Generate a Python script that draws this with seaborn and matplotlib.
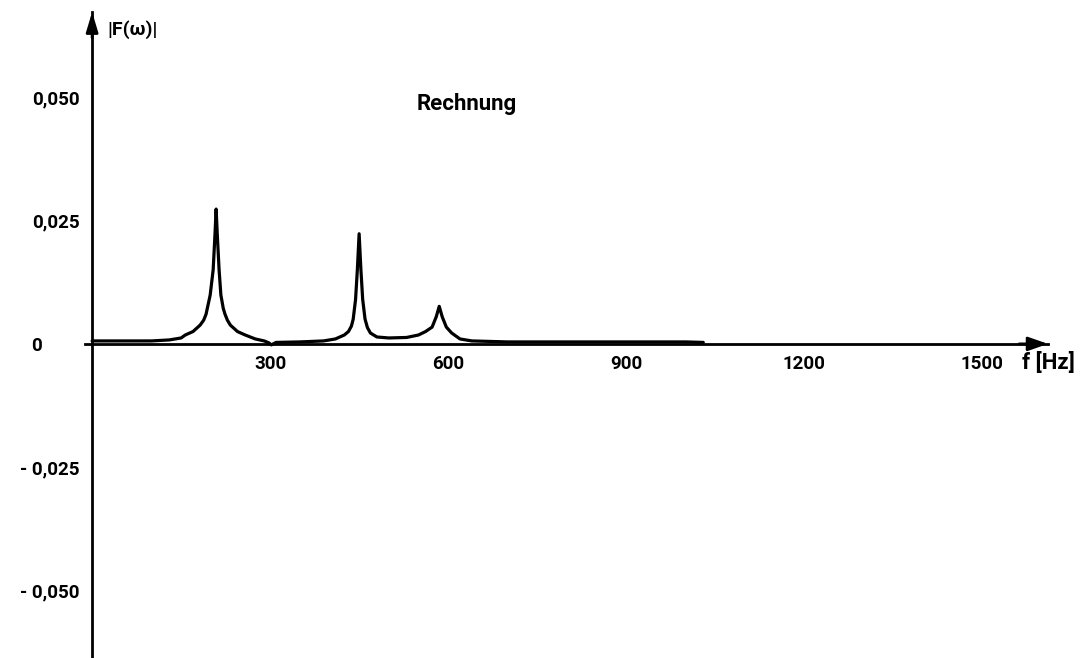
import matplotlib
matplotlib.use("Agg")
import matplotlib.pyplot as plt
import seaborn as sns

# Calculated amplitude spectrum |F(w)| over frequency
freq_hz = [0, 50, 100, 130, 150, 157, 170, 182, 188, 192, 199, 204, 207, 209,
           211, 214, 217, 221, 224, 228, 233, 245, 258, 275, 290, 298, 302,
           310, 350, 390, 410, 425, 432, 437, 440, 444, 447, 450, 453, 456,
           460, 464, 469, 480, 500, 530, 550, 562, 573, 580, 585, 590, 597,
           606, 620, 640, 700, 800, 900, 1000, 1030]
magnitude = [0.0006, 0.0006, 0.0006, 0.0008, 0.0012, 0.0018, 0.0025, 0.0038,
             0.0048, 0.0060, 0.0099, 0.0150, 0.0220, 0.0273, 0.0220, 0.0150,
             0.0099, 0.0072, 0.0060, 0.0048, 0.0038, 0.0025, 0.0018, 0.0010,
             0.0006, 0.0002, -0.0002, 0.0003, 0.0004, 0.0006, 0.0010, 0.0018,
             0.0025, 0.0036, 0.0050, 0.0090, 0.0150, 0.0223, 0.0150, 0.0090,
             0.0050, 0.0033, 0.0022, 0.0014, 0.0012, 0.0013, 0.0018, 0.0025,
             0.0034, 0.0055, 0.0076, 0.0055, 0.0034, 0.0022, 0.0010, 0.0006,
             0.0004, 0.0004, 0.0004, 0.0004, 0.0003]

x_ticks = [300, 600, 900, 1200, 1500]
x_tick_labels = ["300", "600", "900", "1200", "1500"]
y_ticks = [-0.050, -0.025, 0.0, 0.025, 0.050]
y_tick_labels = ["- 0,050", "- 0,025", "0" + " " * 8, "0,025", "0,050"]

sns.set_style("white")
plt.rcParams["font.family"] = ["Roboto", "DejaVu Sans"]
plt.rcParams["text.color"] = "black"

W, H = 1085, 658
fig = plt.figure(figsize=(W / 100, H / 100), dpi=100)
ax = fig.add_axes([85 / W, 0.0, 963 / W, (H - 12) / H])

sns.lineplot(x=freq_hz, y=magnitude, ax=ax, color="black", linewidth=2.3,
             sort=False, estimator=None)

ax.set_xlim(-12, 1611)
ax.set_ylim(-0.0636, 0.0672)

# Axes crossing at the origin
for side in ("top", "right"):
    ax.spines[side].set_visible(False)
ax.spines["left"].set_position(("data", 0))
ax.spines["bottom"].set_position(("data", 0))
for side in ("left", "bottom"):
    ax.spines[side].set_color("black")
    ax.spines[side].set_linewidth(2.0)

# Filled arrow heads at the ends of both axes
ax.annotate("", xy=(1.0, 0), xytext=(0.97, 0),
            xycoords=ax.get_yaxis_transform(),
            textcoords=ax.get_yaxis_transform(),
            arrowprops=dict(arrowstyle="-|>,head_length=1.2,head_width=0.42",
                            color="black", lw=2.0, shrinkA=0, shrinkB=0),
            annotation_clip=False)
ax.annotate("", xy=(0, 1.0), xytext=(0, 0.96),
            xycoords=ax.get_xaxis_transform(),
            textcoords=ax.get_xaxis_transform(),
            arrowprops=dict(arrowstyle="-|>,head_length=1.2,head_width=0.36",
                            color="black", lw=2.0, shrinkA=0, shrinkB=0),
            annotation_clip=False)

ax.set_xticks(x_ticks)
ax.set_xticklabels(x_tick_labels)
ax.set_yticks(y_ticks)
ax.set_yticklabels(y_tick_labels)
ax.tick_params(axis="both", direction="out", length=5, width=1.5,
               color="black", labelsize=13.5, labelcolor="black")
ax.tick_params(axis="x", pad=3)
ax.tick_params(axis="y", pad=4)
for lab in ax.get_xticklabels() + ax.get_yticklabels():
    lab.set_fontweight("bold")

ax.set_xlabel("")
ax.set_ylabel("")

text_kw = dict(fontweight="bold", color="black", ha="left", va="center")
fig.text(107 / W, 1 - 30 / H, "|F(ω)|", fontsize=14, **text_kw)
fig.text(417 / W, 1 - 104 / H, "Rechnung", fontsize=16, **text_kw)
fig.text(1022 / W, 1 - 363 / H, "f [Hz]", fontsize=16, **text_kw)

fig.savefig("out.png", dpi=100, facecolor="white")
